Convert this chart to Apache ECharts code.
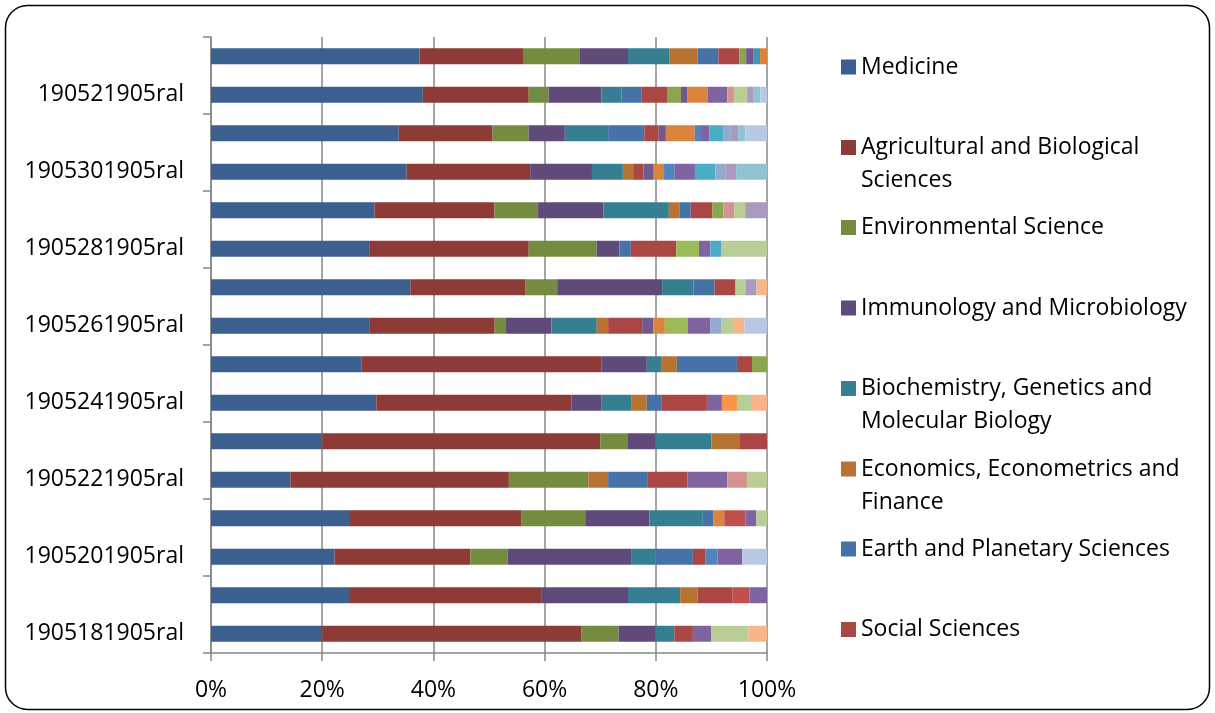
<!DOCTYPE html>
<html>
<head>
<meta charset="utf-8">
<script src="https://cdn.jsdelivr.net/npm/echarts@6/dist/echarts.min.js"></script>
<style>
  html, body { margin: 0; padding: 0; background: #ffffff; }
  #chart { width: 1215px; height: 713px; }
</style>
</head>
<body>
<div id="chart"></div>
<script>
// Sample groups, bottom row first
const categories = [
  '1905181905ral', '1905191905ral', '1905201905ral', '1905211905ral',
  '1905221905ral', '1905231905ral', '1905241905ral', '1905251905ral',
  '1905261905ral', '1905271905ral', '1905281905ral', '1905291905ral',
  '1905301905ral', '1905311905ral', '190521905ral', '190531905ral'
];

// Publication counts per subject area, one value per row (same order as categories)
const medicine      = [6, 8, 10, 13, 4, 4, 11, 10, 14, 19, 14, 15, 19, 26, 32, 30];
const agricultural  = [14, 11, 11, 16, 11, 10, 13, 16, 11, 11, 14, 11, 12, 13, 16, 15];
const environmental = [2, 0, 3, 6, 4, 1, 0, 0, 1, 3, 6, 4, 0, 5, 3, 8];
const immunology    = [2, 5, 10, 6, 0, 1, 2, 3, 4, 10, 2, 6, 6, 5, 8, 7];
const biochemistry  = [1, 3, 2, 5, 0, 2, 2, 1, 4, 3, 0, 6, 3, 6, 3, 6];
const economics     = [0, 1, 0, 0, 1, 1, 1, 1, 1, 0, 0, 1, 1, 0, 0, 4];
const earth         = [0, 0, 3, 1, 2, 0, 1, 4, 0, 2, 1, 1, 0, 5, 3, 3];
const social        = [1, 2, 1, 0, 2, 1, 3, 1, 3, 2, 4, 2, 1, 2, 4, 3];
const chemistry     = [0, 0, 0, 0, 0, 0, 0, 1, 0, 0, 0, 1, 0, 0, 2, 1];
const pharmacology  = [0, 0, 0, 0, 0, 0, 0, 0, 1, 0, 0, 0, 1, 1, 1, 1];
const veterinary    = [0, 0, 0, 0, 0, 0, 0, 0, 0, 0, 0, 0, 0, 0, 0, 1];
const nursing       = [0, 0, 0, 1, 0, 0, 0, 0, 1, 0, 0, 0, 1, 4, 3, 1];
const health        = [0, 0, 1, 0, 0, 0, 0, 0, 0, 0, 0, 0, 1, 1, 0, 0];
const neuroscience  = [0, 1, 0, 2, 0, 0, 0, 0, 0, 0, 0, 0, 0, 0, 0, 0];
const chemEng       = [0, 0, 0, 0, 0, 0, 0, 0, 2, 0, 2, 0, 0, 0, 0, 0];
const engineering   = [1, 1, 2, 1, 2, 0, 1, 0, 2, 0, 1, 0, 2, 1, 3, 0];
const computer      = [0, 0, 0, 0, 0, 0, 0, 0, 0, 0, 1, 0, 2, 2, 0, 0];
const mathematics   = [0, 0, 0, 0, 0, 0, 1, 0, 0, 0, 0, 0, 0, 0, 0, 0];
const materials     = [0, 0, 0, 0, 0, 0, 0, 0, 1, 0, 0, 0, 1, 1, 0, 0];
const physics       = [0, 0, 0, 0, 1, 0, 0, 0, 0, 0, 0, 1, 0, 0, 1, 0];
const energy        = [2, 0, 0, 1, 1, 0, 1, 0, 1, 1, 4, 1, 0, 0, 2, 0];
const psychology    = [0, 0, 0, 0, 0, 0, 0, 0, 0, 1, 0, 2, 1, 1, 1, 0];
const multidisc     = [0, 0, 0, 0, 0, 0, 0, 0, 0, 0, 0, 0, 3, 1, 1, 0];
const arts          = [1, 0, 0, 0, 0, 0, 1, 0, 1, 1, 0, 0, 0, 0, 0, 0];
const business      = [0, 0, 2, 0, 0, 0, 0, 0, 2, 0, 0, 0, 0, 3, 1, 0];

const seriesNames = [
  'Medicine', 'Agricultural and Biological Sciences', 'Environmental Science',
  'Immunology and Microbiology', 'Biochemistry, Genetics and Molecular Biology',
  'Economics, Econometrics and Finance', 'Earth and Planetary Sciences', 'Social Sciences',
  'Chemistry', 'Pharmacology, Toxicology and Pharmaceutics', 'Veterinary', 'Nursing',
  'Health Professions', 'Neuroscience', 'Chemical Engineering', 'Engineering',
  'Computer Science', 'Mathematics', 'Materials Science', 'Physics and Astronomy',
  'Energy', 'Psychology', 'Multidisciplinary', 'Arts and Humanities',
  'Business, Management and Accounting'
];
const seriesValues = [
  medicine, agricultural, environmental, immunology, biochemistry, economics, earth, social,
  chemistry, pharmacology, veterinary, nursing, health, neuroscience, chemEng, engineering,
  computer, mathematics, materials, physics, energy, psychology, multidisc, arts, business
];
const seriesColors = [
  '#3B5F8F', '#8E3B38', '#748C3F', '#5F4A7A', '#367F93', '#B87333',
  '#4572A7', '#AA4643', '#89A54E', '#71588F', '#4198AF', '#DB843D',
  '#5083C0', '#C0504D', '#9BBB59', '#8064A2', '#4BACC6', '#F79646',
  '#93A9CF', '#D39391', '#B9CD96', '#A99BBD', '#92C3D5', '#F9B58A', '#B9C8E2'
];

// Legend lists the first eight subject areas; long names wrap onto a second line
const legendNames = seriesNames.slice(0, 8);
const legendText = {
  'Agricultural and Biological Sciences': 'Agricultural and Biological\nSciences',
  'Biochemistry, Genetics and Molecular Biology': 'Biochemistry, Genetics and\nMolecular Biology',
  'Economics, Econometrics and Finance': 'Economics, Econometrics and\nFinance'
};
const legendTops = [55, 98, 215.5, 296, 339, 419.5, 537, 617.5];

const FONT = '"Open Sans"';
const FONT_SIZE = 23;
const AXIS_GREY = '#878787';

// 100% stacking: each row is shown as shares of its own total
const rowTotals = categories.map((_, r) => seriesValues.reduce((s, v) => s + v[r], 0));

const series = seriesNames.map((name, i) => ({
  name: name,
  type: 'bar',
  stack: 'share',
  barWidth: 16,
  itemStyle: { color: seriesColors[i] },
  emphasis: { disabled: true },
  data: seriesValues[i].map((v, r) => v / rowTotals[r] * 100)
}));

// One legend block per entry; wrapped entries get an empty leading line so the
// swatch sits beside their first line of text
const legends = legendNames.map((name, i) => {
  const wrapped = legendText[name];
  return {
    data: [name],
    orient: 'vertical',
    left: 841,
    top: legendTops[i],
    padding: 0,
    itemWidth: 15,
    itemHeight: 15,
    icon: 'rect',
    selectedMode: false,
    formatter: n => (legendText[n] ? '\n' + legendText[n] : n),
    textStyle: {
      fontFamily: FONT,
      fontSize: FONT_SIZE,
      color: '#000000',
      lineHeight: wrapped ? 33 : 24
    }
  };
});

const chart = echarts.init(document.getElementById('chart'), null, { renderer: 'canvas' });
chart.setOption({
  animation: false,
  backgroundColor: '#ffffff',
  textStyle: { fontFamily: FONT },
  grid: { left: 211, right: 448, top: 37, bottom: 60, containLabel: false, outerBoundsMode: 'none' },
  legend: legends,
  tooltip: { show: false },
  xAxis: {
    type: 'value',
    min: 0,
    max: 100,
    interval: 20,
    axisLine: { show: true, lineStyle: { color: AXIS_GREY, width: 1.5 } },
    axisTick: { show: true, length: 8, lineStyle: { color: AXIS_GREY, width: 1.5 } },
    splitLine: { show: true, lineStyle: { color: AXIS_GREY, width: 1.5 } },
    axisLabel: {
      formatter: '{value}%',
      fontFamily: FONT,
      fontSize: FONT_SIZE,
      color: '#000000',
      margin: 26
    }
  },
  yAxis: {
    type: 'category',
    data: categories,
    axisLine: { show: true, lineStyle: { color: AXIS_GREY, width: 1.5 } },
    axisTick: { show: true, interval: 1, length: 8, lineStyle: { color: AXIS_GREY, width: 1.5 } },
    splitLine: { show: false },
    axisLabel: {
      interval: 1,
      fontFamily: FONT,
      fontSize: FONT_SIZE,
      color: '#000000',
      margin: 27
    }
  },
  graphic: [{
    type: 'rect',
    silent: true,
    shape: { x: 5.5, y: 5.5, width: 1204, height: 704, r: 22 },
    style: { fill: 'none', stroke: '#000000', lineWidth: 1.5 }
  }],
  series: series
});
</script>
</body>
</html>
